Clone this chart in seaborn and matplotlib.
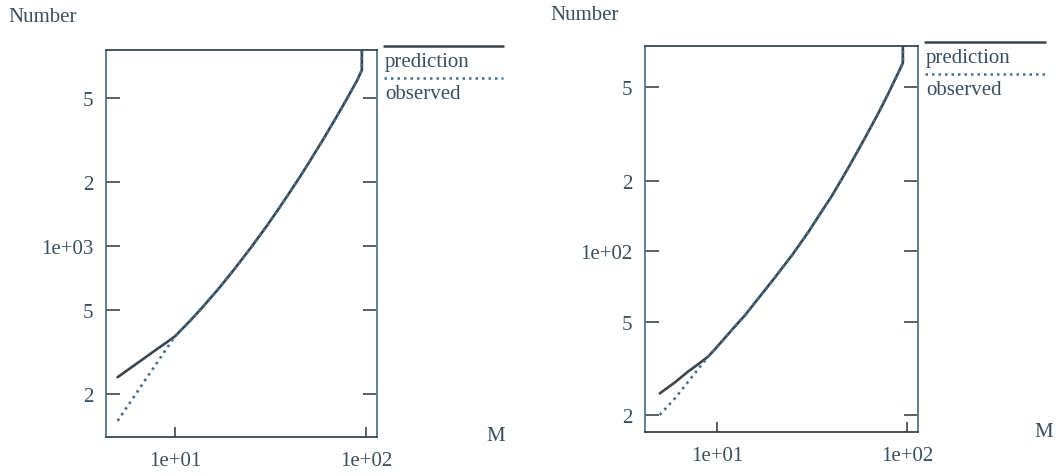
import matplotlib
matplotlib.use('Agg')
import matplotlib.pyplot as plt
import seaborn as sns
from matplotlib.ticker import FixedLocator, FixedFormatter, NullLocator
from matplotlib.lines import Line2D

# values
m_values = [5, 6, 7, 8, 9, 10, 12, 14, 17, 20, 25, 30, 35, 40, 45, 50, 60, 70,
            80, 90, 95, 95]

left_prediction = [241, 271, 299, 326, 351, 376, 445, 518, 634, 760, 986, 1234,
                   1507, 1803, 2118, 2460, 3215, 4064, 5012, 6067, 6750, 20000]
left_observed = [150, 191, 235, 280, 328, 376, 445, 518, 634, 760, 986, 1234,
                 1507, 1803, 2118, 2460, 3215, 4064, 5012, 6067, 6750, 20000]

right_prediction = [24.7, 27.5, 30.5, 33, 35.5, 39, 46.2, 53.1, 64.8, 76.5, 96.9,
                    119.5, 145, 171, 201, 233, 304, 383, 474, 579, 636, 2000]
right_observed = [20, 23.5, 27.5, 31.5, 35.5, 39, 46.2, 53.1, 64.8, 76.5, 96.9,
                  119.5, 145, 171, 201, 233, 304, 383, 474, 579, 636, 2000]

left_yticks = [200, 500, 1000, 2000, 5000]
left_ylabels = ['2', '5', '1e+03', '2', '5']
right_yticks = [20, 50, 100, 200, 500]
right_ylabels = ['2', '5', '1e+02', '2', '5']
xticks = [10, 100]
xlabels = ['1e+01', '1e+02']

sns.set_style('white')
plt.rcParams['font.family'] = ['Liberation Serif', 'DejaVu Serif']

text_col = '#3a4f5e'
line_col = '#3b454d'
obs_col = '#46708e'
frame_col = '#55768c'
fs = 15

fig = plt.figure(figsize=(10.58, 4.77), dpi=100)
ax1 = fig.add_axes([0.1002, 0.0818, 0.2561, 0.8113])
ax2 = fig.add_axes([0.6096, 0.0922, 0.2580, 0.8093])


def draw_panel(ax, pred, obs, yticks, ylabels, xlim, ylim):
    sns.lineplot(x=m_values, y=pred, ax=ax, color=line_col, lw=1.9,
                 estimator=None, sort=False)
    sns.lineplot(x=m_values, y=obs, ax=ax, color=obs_col, lw=1.9,
                 linestyle=(0, (1, 1.6)), estimator=None, sort=False)
    ax.set_xscale('log')
    ax.set_yscale('log')
    ax.set_xlim(*xlim)
    ax.set_ylim(*ylim)

    ax.yaxis.set_major_locator(FixedLocator(yticks))
    ax.yaxis.set_major_formatter(FixedFormatter(ylabels))
    ax.xaxis.set_major_locator(FixedLocator(xticks))
    ax.xaxis.set_major_formatter(FixedFormatter(xlabels))
    ax.yaxis.set_minor_locator(NullLocator())
    ax.xaxis.set_minor_locator(NullLocator())

    ax.tick_params(axis='y', which='major', direction='in', left=True, right=True,
                   length=10, width=1.2, color=line_col, pad=9,
                   labelsize=fs, labelcolor=text_col)
    ax.tick_params(axis='x', which='major', direction='in', bottom=True, top=False,
                   length=7, width=1.2, color=line_col, pad=10,
                   labelsize=fs, labelcolor=text_col)
    for side, sp in ax.spines.items():
        sp.set_visible(True)
        sp.set_linewidth(1.3)
        sp.set_color(frame_col if side in ('left', 'right') else line_col)
    ax.set_xlabel('')
    ax.set_ylabel('')
    ax.grid(False)

    # key drawn S-PLUS style: line above each label, outside the box
    tr = ax.transAxes
    ax.add_line(Line2D([1.025, 1.465], [1.010, 1.010], transform=tr, clip_on=False,
                       color=line_col, lw=1.8))
    ax.text(1.03, 0.995, 'prediction', transform=tr, ha='left', va='top',
            fontsize=fs, color=text_col)
    ax.add_line(Line2D([1.025, 1.465], [0.927, 0.927], transform=tr, clip_on=False,
                       color=obs_col, lw=1.8, linestyle=(0, (1, 1.6))))
    ax.text(1.03, 0.912, 'observed', transform=tr, ha='left', va='top',
            fontsize=fs, color=text_col)


draw_panel(ax1, left_prediction, left_observed, left_yticks, left_ylabels,
           (4.35, 114), (126, 8400))
draw_panel(ax2, right_prediction, right_observed, right_yticks, right_ylabels,
           (4.18, 114), (16.9, 751))

fig.text(8 / 1058, 1 - 18 / 477, 'Number', ha='left', va='center',
         fontsize=fs, color=text_col)
fig.text(550 / 1058, 1 - 15 / 477, 'Number', ha='left', va='center',
         fontsize=fs, color=text_col)
fig.text(496 / 1058, 1 - 437 / 477, 'M', ha='center', va='center',
         fontsize=fs, color=text_col)
fig.text(1044 / 1058, 1 - 433 / 477, 'M', ha='center', va='center',
         fontsize=fs, color=text_col)

plt.savefig('out.png', dpi=100)
